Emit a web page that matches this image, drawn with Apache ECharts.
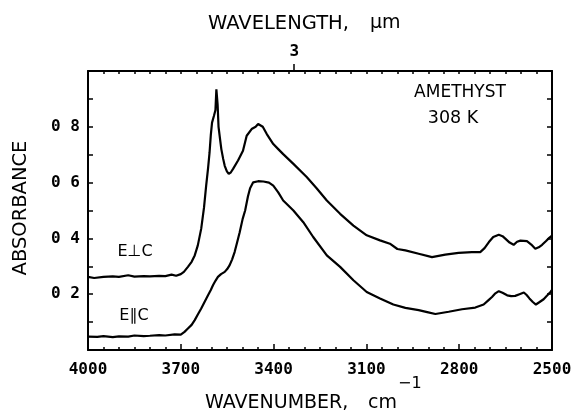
<!DOCTYPE html>
<html>
<head>
<meta charset="utf-8">
<script src="https://cdn.jsdelivr.net/npm/echarts@6/dist/echarts.min.js"></script>
<style>
html,body{margin:0;padding:0;background:#fff;}
#chart{width:575px;height:413px;}
</style>
</head>
<body>
<div id="chart"></div>
<script>
// E perpendicular c
var perpWn = [4000,3980,3950,3920,3900,3870,3850,3820,3800,3770,3750,3730,3715,3700,3690,3677,3665,3655,3645,3634,3625,3618,3612,3607,3603,3599,3593,3588,3585,3581,3578,3573,3569,3563,3558,3551,3545,3538,3531,3515,3499,3487,3471,3458,3450,3444,3435,3422,3401,3385,3369,3336,3293,3261,3228,3185,3142,3099,3056,3024,3000,2974,2931,2888,2845,2802,2759,2732,2718,2704,2690,2672,2660,2651,2637,2624,2613,2602,2581,2567,2554,2543,2532,2520,2509,2500];
var perpAbs = [0.262,0.258,0.262,0.264,0.262,0.268,0.263,0.265,0.264,0.266,0.265,0.270,0.266,0.272,0.280,0.298,0.316,0.339,0.375,0.435,0.51,0.589,0.65,0.708,0.77,0.815,0.839,0.86,0.934,0.88,0.80,0.755,0.72,0.685,0.66,0.64,0.631,0.637,0.649,0.679,0.714,0.768,0.792,0.80,0.81,0.806,0.80,0.774,0.738,0.72,0.702,0.667,0.62,0.58,0.536,0.488,0.446,0.411,0.393,0.381,0.362,0.357,0.345,0.333,0.342,0.348,0.351,0.351,0.365,0.387,0.405,0.413,0.408,0.399,0.385,0.377,0.388,0.392,0.390,0.378,0.363,0.368,0.377,0.390,0.402,0.41];
// E parallel c
var parWn = [4000,3970,3950,3920,3900,3870,3850,3820,3800,3770,3750,3720,3700,3688,3677,3665,3655,3645,3634,3622,3612,3603,3596,3588,3580,3570,3558,3550,3542,3534,3526,3518,3510,3500,3492,3483,3476,3466,3450,3433,3415,3401,3385,3369,3336,3304,3272,3228,3185,3142,3099,3056,3013,2974,2931,2900,2877,2834,2791,2748,2721,2706,2694,2683,2672,2660,2645,2632,2619,2605,2591,2582,2573,2562,2552,2540,2527,2515,2505,2500];
var parAbs = [0.048,0.047,0.050,0.046,0.049,0.048,0.052,0.050,0.051,0.053,0.052,0.056,0.055,0.065,0.077,0.09,0.107,0.127,0.149,0.175,0.196,0.215,0.232,0.248,0.262,0.272,0.280,0.29,0.304,0.325,0.351,0.385,0.42,0.47,0.50,0.55,0.58,0.601,0.605,0.604,0.600,0.589,0.565,0.536,0.50,0.458,0.405,0.339,0.298,0.25,0.208,0.185,0.163,0.151,0.143,0.135,0.129,0.137,0.146,0.152,0.163,0.178,0.19,0.203,0.211,0.205,0.196,0.193,0.194,0.20,0.206,0.197,0.185,0.172,0.163,0.172,0.182,0.196,0.208,0.215];
// tick labels
var xTickLabels = [4000,3700,3400,3100,2800,2500];
var yTickLabels = ['0 2','0 4','0 6','0 8'];
var topWavelengthTicks = [3];

function pairs(xs, ys){ var o=[]; for(var i=0;i<xs.length;i++){o.push([xs[i],ys[i]]);} return o; }

var chart = echarts.init(document.getElementById('chart'), null, {renderer:'canvas'});
var tickFont = {fontFamily:'DejaVu Sans Mono', fontWeight:'bold', fontSize:16, color:'#000'};
var topVals = topWavelengthTicks.map(function(l){return 10000/l;});

var option = {
  animation:false,
  backgroundColor:'#fff',
  grid:{left:88, top:71, right:23, bottom:63, containLabel:false},
  xAxis:[
    {type:'value', position:'bottom', min:2500, max:4000, interval:300, inverse:true,
     axisLine:{show:true, onZero:false, lineStyle:{color:'#000', width:2}},
     axisTick:{show:true, inside:true, length:6, lineStyle:{color:'#000', width:1.5}},
     minorTick:{show:true, splitNumber:6, length:3, lineStyle:{color:'#000', width:1.5}},
     splitLine:{show:false},
     axisLabel:Object.assign({margin:12, formatter:function(v){return xTickLabels.indexOf(v)>=0? String(v):'';}}, tickFont)},
    {type:'value', position:'top', min:2500, max:4000, interval:50, inverse:true,
     axisLine:{show:true, onZero:false, lineStyle:{color:'#000', width:2}},
     axisTick:{show:true, inside:true, length:3, lineStyle:{color:'#000', width:1.5}},
     splitLine:{show:false}, axisLabel:{show:false}},
    {type:'value', position:'top', min:2500, max:4000, inverse:true,
     axisLine:{show:false, onZero:false},
     axisTick:{show:true, inside:false, length:7, customValues:topVals, lineStyle:{color:'#000', width:1.5}},
     splitLine:{show:false},
     axisLabel:Object.assign({show:true, margin:11, customValues:topVals, formatter:function(v){return String(Math.round(10000/v));}}, tickFont)}
  ],
  yAxis:[
    {type:'value', position:'left', min:0, max:1, interval:0.2,
     axisLine:{show:true, onZero:false, lineStyle:{color:'#000', width:2}},
     axisTick:{show:true, inside:true, length:5, lineStyle:{color:'#000', width:1.5}},
     minorTick:{show:true, splitNumber:2, length:5, lineStyle:{color:'#000', width:1.5}},
     splitLine:{show:false},
     axisLabel:Object.assign({margin:8, formatter:function(v){var k=Math.round(v*5)-1; return (k>=0&&k<yTickLabels.length)?yTickLabels[k]:'';}}, tickFont)},
    {type:'value', position:'right', min:0, max:1, interval:0.1,
     axisLine:{show:true, onZero:false, lineStyle:{color:'#000', width:2}},
     axisTick:{show:true, inside:true, length:5, lineStyle:{color:'#000', width:1.5}},
     splitLine:{show:false}, axisLabel:{show:false}}
  ],
  series:[
    {name:'E\u22a5C', type:'line', xAxisIndex:0, yAxisIndex:0, data:pairs(perpWn, perpAbs), showSymbol:false, symbol:'none',
     lineStyle:{color:'#000', width:2.2}, silent:true},
    {name:'E\u2225C', type:'line', xAxisIndex:0, yAxisIndex:0, data:pairs(parWn, parAbs), showSymbol:false, symbol:'none',
     lineStyle:{color:'#000', width:2.2}, silent:true}
  ],
  graphic:[
    {type:'text', left:205, top:394, style:{text:'WAVENUMBER,', font:'19px "DejaVu Sans"', fill:'#000'}},
    {type:'text', left:368, top:394, style:{text:'cm', font:'19px "DejaVu Sans"', fill:'#000'}},
    {type:'text', left:398, top:376, style:{text:'\u22121', font:'16px "DejaVu Sans"', fill:'#000'}},
    {type:'text', left:208, top:14, style:{text:'WAVELENGTH,', font:'19.5px "DejaVu Sans"', fill:'#000'}},
    {type:'text', left:370, top:14, style:{text:'\u00b5m', font:'19px "DejaVu Sans"', fill:'#000'}},
    {type:'text', x:21, y:208, rotation:Math.PI/2, style:{text:'ABSORBANCE', font:'19.5px "DejaVu Sans"', fill:'#000', align:'center', verticalAlign:'middle'}},
    {type:'text', x:460, y:93, style:{text:'AMETHYST', font:'17px "DejaVu Sans"', fill:'#000', align:'center', verticalAlign:'middle'}},
    {type:'text', x:453, y:118, style:{text:'308 K', font:'17.5px "DejaVu Sans"', fill:'#000', align:'center', verticalAlign:'middle'}},
    {type:'text', x:135, y:252, style:{text:'E\u22a5C', font:'16px "DejaVu Sans"', fill:'#000', align:'center', verticalAlign:'middle'}},
    {type:'text', x:134, y:316, style:{text:'E\u2225C', font:'16px "DejaVu Sans"', fill:'#000', align:'center', verticalAlign:'middle'}}
  ]
};
chart.setOption(option);
</script>
</body>
</html>
